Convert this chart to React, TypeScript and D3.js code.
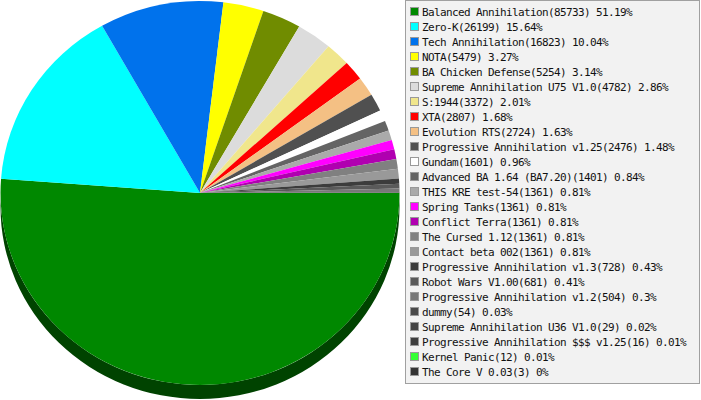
import * as d3 from 'd3';
import { useRef, useEffect } from 'react';

const mods: string[] = [
	"Balanced Annihilation", "Zero-K", "Tech Annihilation", "NOTA", "BA Chicken Defense",
	"Supreme Annihilation U75 V1.0", "S:1944", "XTA", "Evolution RTS", "Progressive Annihilation v1.25",
	"Gundam", "Advanced BA 1.64 (BA7.20)", "THIS KRE test-54", "Spring Tanks", "Conflict Terra",
	"The Cursed 1.12", "Contact beta 002", "Progressive Annihilation v1.3", "Robot Wars V1.00", "Progressive Annihilation v1.2",
	"dummy", "Supreme Annihilation U36 V1.0", "Progressive Annihilation $$$ v1.25", "Kernel Panic", "The Core V 0.03",
];
const games: number[] = [
	85733, 26199, 16823, 5479, 5254,
	4782, 3372, 2807, 2724, 2476,
	1601, 1401, 1361, 1361, 1361,
	1361, 1361, 728, 681, 504,
	54, 29, 16, 12, 3,
];
const shares: string[] = [
	"51.19%", "15.64%", "10.04%", "3.27%", "3.14%",
	"2.86%", "2.01%", "1.68%", "1.63%", "1.48%",
	"0.96%", "0.84%", "0.81%", "0.81%", "0.81%",
	"0.81%", "0.81%", "0.43%", "0.41%", "0.3%",
	"0.03%", "0.02%", "0.01%", "0.01%", "0%",
];
const colors: string[] = [
	"#008800", "#00ffff", "#0072ec", "#ffff00", "#708c00",
	"#dcdcdc", "#f0e68c", "#ff0000", "#f4c084", "#505050",
	"#ffffff", "#646464", "#aaaaaa", "#ff00ff", "#b000b0",
	"#808080", "#999999", "#3c3c3c", "#5a5a5a", "#787878",
	"#4a4a4a", "#444444", "#3e3e3e", "#33ff33", "#333333",
];

const App = () => {
	const ref: any = useRef();
	const width = 701, height = 400;
	const cx = 200, cy = 193, rx = 199.5, ry = 192, depth = 14;

	useEffect(() => {
		const svg = d3.select(ref.current);
		svg.selectAll("*").remove();

		const data = mods.map((m, i) => ({ name: m, value: games[i], share: shares[i], color: colors[i] }));

		// start at 3 o'clock, go clockwise
		const pie = d3.pie<any>().value(d => d.value).sort(null)
			.startAngle(Math.PI / 2).endAngle(Math.PI / 2 + 2 * Math.PI);
		const arcs = pie(data);

		const g = svg.append("g")
			.attr("transform", "translate(" + cx + "," + cy + ") scale(" + (rx / ry) + ",1)");

		// the side of the pie, only the front half shows
		arcs.forEach(a => {
			const t0 = Math.max(a.startAngle - Math.PI / 2, 0);
			const t1 = Math.min(a.endAngle - Math.PI / 2, Math.PI);
			if (t1 <= t0) return;
			const p = d3.path();
			p.moveTo(ry * Math.cos(t0), ry * Math.sin(t0));
			p.arc(0, 0, ry, t0, t1);
			p.lineTo(ry * Math.cos(t1), ry * Math.sin(t1) + depth);
			p.arc(0, depth, ry, t1, t0, true);
			p.closePath();
			g.append("path")
				.attr("d", p.toString())
				.attr("fill", d3.rgb(a.data.color).darker(2).toString());
		});

		const arc = d3.arc<any>().innerRadius(0).outerRadius(ry);
		g.selectAll("path.slice")
			.data(arcs)
			.enter()
			.append("path")
			.attr("class", "slice")
			.attr("d", arc)
			.attr("fill", d => d.data.color);

		// legend
		const lg = svg.append("g");
		lg.append("rect")
			.attr("x", 405.5).attr("y", 0.5)
			.attr("width", 294).attr("height", 383)
			.attr("fill", "#f2f2f2")
			.attr("stroke", "#a0a0a0");

		const rows = lg.selectAll("g.row")
			.data(data)
			.enter()
			.append("g")
			.attr("class", "row")
			.attr("transform", (d, i) => "translate(0," + (i * 15) + ")");
		rows.append("rect")
			.attr("x", 410.5).attr("y", 7.5)
			.attr("width", 8).attr("height", 8)
			.attr("fill", d => d.color)
			.attr("stroke", "#999999");
		rows.append("text")
			.attr("x", 422).attr("y", 16)
			.attr("font-family", "'DejaVu Sans Mono', monospace")
			.attr("font-size", 11)
			.attr("letter-spacing", -0.62)
			.attr("fill", "#111")
			.text(d => d.name + "(" + d.value + ") " + d.share);
	}, []);

	return (
		<svg ref={ref} width={width} height={height}
			style={{ position: "absolute", left: 0, top: 0, background: "#fff" }}>
		</svg>
	);
};

export default App;
